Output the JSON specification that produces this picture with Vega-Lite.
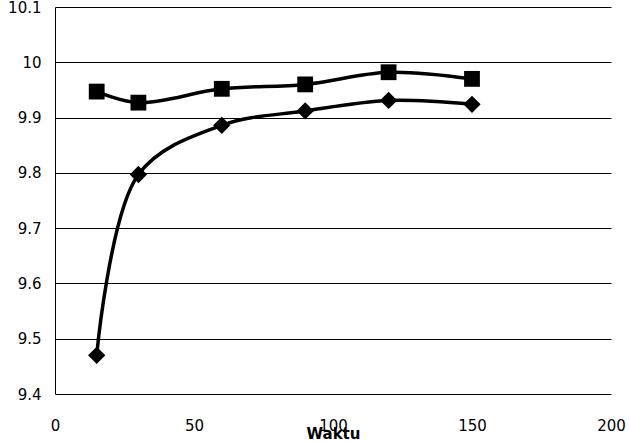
{
  "$schema": "https://vega.github.io/schema/vega-lite/v6.json",
  "autosize": "none",
  "width": 556,
  "height": 387,
  "padding": {"left": 55, "top": 7, "right": 18, "bottom": 47},
  "background": "white",
  "config": {"view": {"stroke": null}},
  "data": {"values": [
    {"t": 15, "v": 9.947, "s": "A"},
    {"t": 30, "v": 9.927, "s": "A"},
    {"t": 60, "v": 9.952, "s": "A"},
    {"t": 90, "v": 9.960, "s": "A"},
    {"t": 120, "v": 9.982, "s": "A"},
    {"t": 150, "v": 9.970, "s": "A"},
    {"t": 15, "v": 9.470, "s": "B"},
    {"t": 30, "v": 9.797, "s": "B"},
    {"t": 60, "v": 9.886, "s": "B"},
    {"t": 90, "v": 9.912, "s": "B"},
    {"t": 120, "v": 9.931, "s": "B"},
    {"t": 150, "v": 9.924, "s": "B"}
  ]},
  "encoding": {
    "x": {"field": "t", "type": "quantitative",
      "scale": {"domain": [0, 200], "nice": false},
      "axis": {"values": [0, 50, 100, 150, 200], "grid": false, "domain": false, "ticks": false,
        "labelFont": "DejaVu Sans", "labelFontSize": 15, "labelColor": "black", "labelPadding": 24,
        "labelFlush": false,
        "title": "Waktu", "titleFont": "DejaVu Sans", "titleFontSize": 15, "titleFontWeight": "bold",
        "titleColor": "black", "titlePadding": -7}},
    "y": {"field": "v", "type": "quantitative",
      "scale": {"domain": [9.4, 10.1], "nice": false, "zero": false},
      "axis": {"values": [9.4, 9.5, 9.6, 9.7, 9.8, 9.9, 10, 10.1], "grid": true, "gridColor": "black", "gridOpacity": 1, "gridWidth": 1,
        "domain": true, "domainColor": "black", "domainWidth": 1, "ticks": false,
        "labelExpr": "format(datum.value, '.3~g')",
        "labelFont": "DejaVu Sans", "labelFontSize": 15, "labelColor": "black", "labelPadding": 14,
        "labelFlush": false, "title": null}}
  },
  "layer": [
    {"mark": {"type": "line", "interpolate": "catmull-rom", "color": "black", "strokeWidth": 3.5},
     "encoding": {"detail": {"field": "s"}}},
    {"mark": {"type": "point", "filled": true, "color": "black", "opacity": 1, "shape": "square", "size": 250},
     "transform": [{"filter": "datum.s === 'A'"}]},
    {"mark": {"type": "point", "filled": true, "color": "black", "opacity": 1, "shape": "diamond", "size": 300},
     "transform": [{"filter": "datum.s === 'B'"}]}
  ]
}
